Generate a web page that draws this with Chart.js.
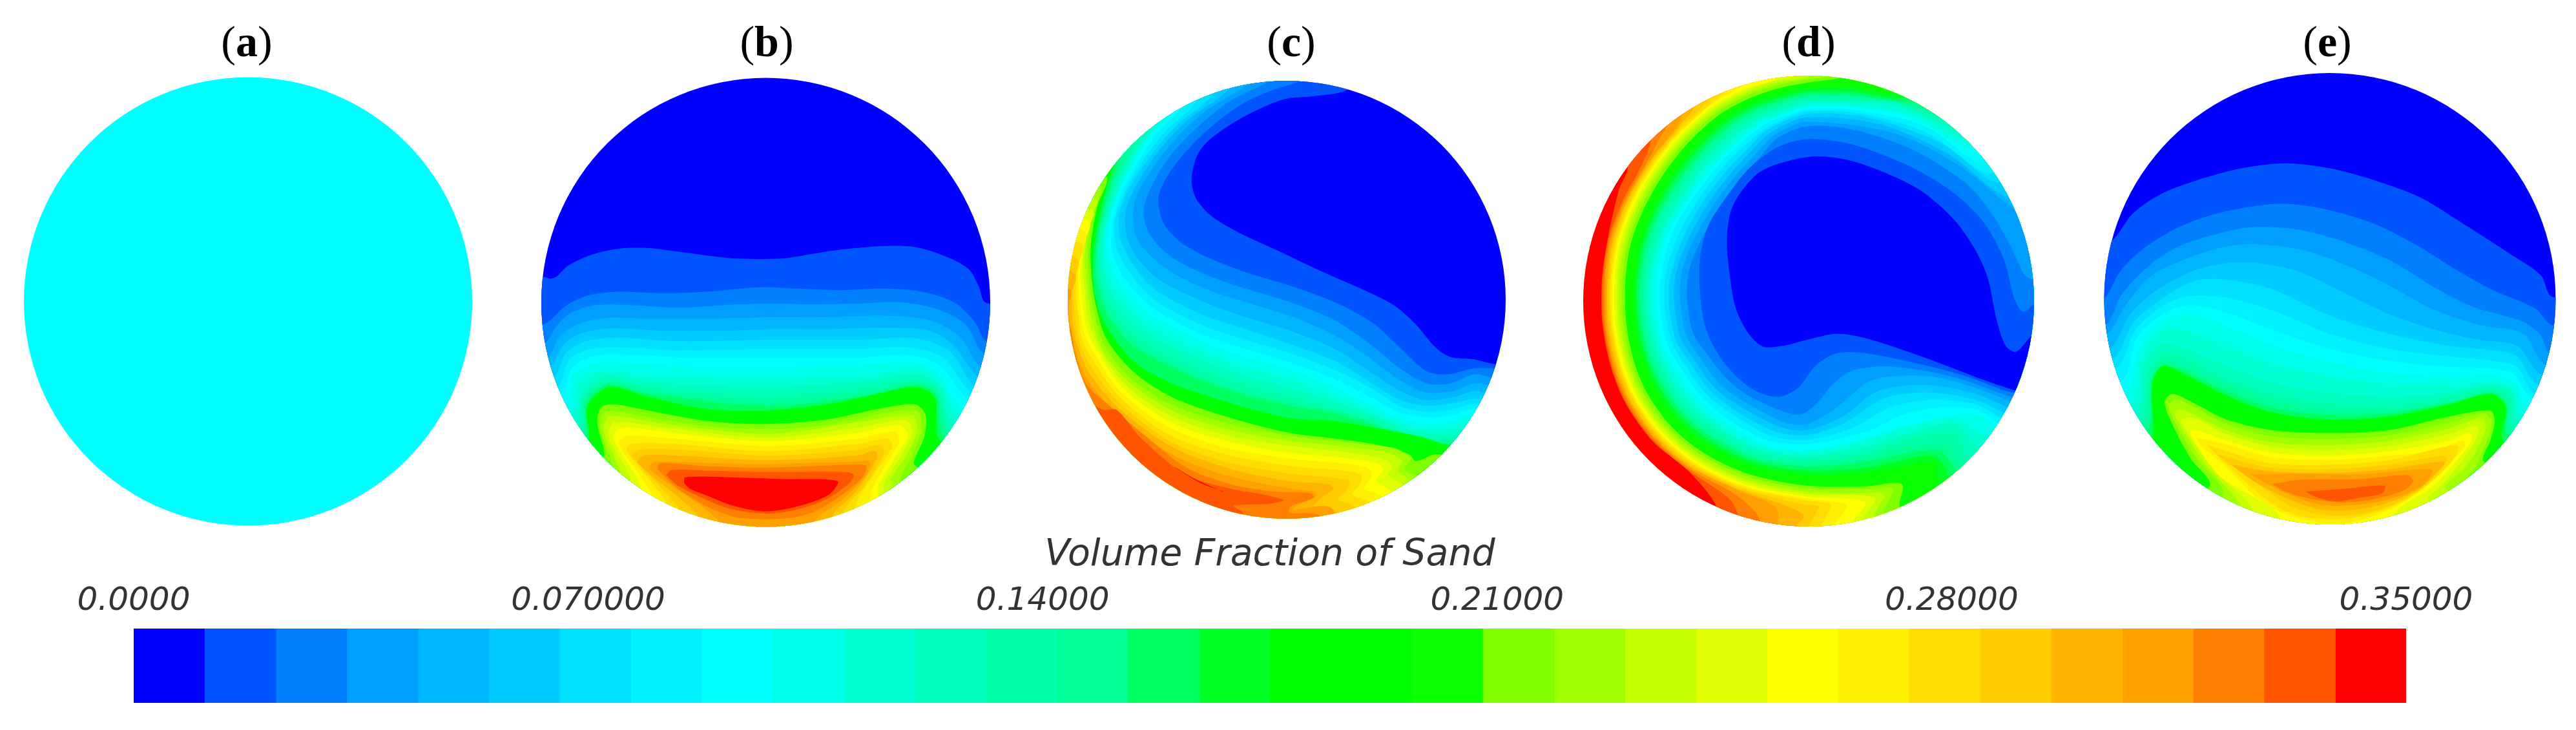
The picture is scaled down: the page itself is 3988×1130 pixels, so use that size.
<!DOCTYPE html>
<html><head><meta charset="utf-8">
<style>html,body{margin:0;padding:0;background:#fff;overflow:hidden}canvas{position:absolute;left:0;top:0}</style>
<script src="https://cdn.jsdelivr.net/npm/chart.js@4"></script>
</head><body>
<canvas id="discs" width="3988" height="1130"></canvas>
<canvas id="bar" width="3988" height="1130"></canvas>
<script>
const levelColors=['#0000ff','#0055ff','#0080ff','#009fff','#00b5ff','#00ccff','#00e0ff','#00f2ff','#00ffff','#00ffea','#00ffd5','#00ffbf','#00ffaa','#00ff95','#00ff60','#00ff22','#00ff00','#00ff00','#0aff00','#7fff00','#a0ff00','#c4ff00','#e0ff00','#ffff00','#ffef00','#ffdd00','#ffcc00','#ffb500','#ff9f00','#ff8000','#ff5500','#ff0000'];
const levelEdges=[0,0.0109,0.0219,0.0328,0.0438,0.0547,0.0656,0.0766,0.0875,0.0984,0.1094,0.1203,0.1313,0.1422,0.1531,0.1641,0.175,0.1859,0.1969,0.2078,0.2188,0.2297,0.2406,0.2516,0.2625,0.2734,0.2844,0.2953,0.3063,0.3172,0.3281,0.3391,0.35];
const tickValues=[0,0.07,0.14,0.21,0.28,0.35];
const tickLabels=['0.0000','0.070000','0.14000','0.21000','0.28000','0.35000'];
const barTitle='Volume Fraction of Sand';
const panelLetters=['a','b','c','d','e'];
const panelCentres=[382,1187,1999,2800,3603];
const discCx=[384,1185.5,1992,2800,3607];
const discCy=[466.6,468,464,466,462.5];
const discR=[347,347.5,339,349,349.5];
const discX0=[20,820,1630,2430,3240];

// Contours, panel units. [colour level, closure side, x,y,x,y...]
const discA=[[9,'R',[-100,-100,1700,-100,1700,1700,-100,1700]]];
const discB=[[1,'R',[-100,-100,1700,-100,1700,1700,-100,1700]],
[2,'S',[-60,700,46,705,70,712,90,705,130,668,210,632,300,612,400,610,500,622,600,635,700,645,850,645,950,630,1050,615,1200,603,1300,607,1400,637,1480,680,1515,740,1535,790,1620,810]],
[3,'S',[-20,880,50,862,75,845,125,800,200,767,300,755,450,760,600,755,780,740,900,745,1050,750,1200,745,1320,755,1430,790,1500,855,1535,915,1620,960]],
[4,'S',[-20,960,53,925,90,870,140,825,220,800,350,800,500,808,650,800,800,795,950,797,1100,795,1250,790,1380,815,1470,865,1528,960,1620,1000]],
[5,'S',[-20,1010,62,975,100,905,165,862,260,842,400,845,600,845,800,840,1000,840,1200,835,1350,850,1450,905,1520,1005,1620,1050]],
[6,'S',[-10,1040,70,1005,115,930,178,892,280,877,450,885,650,885,800,880,1000,880,1200,875,1350,885,1430,935,1512,1040,1620,1100]],
[7,'S',[0,1075,82,1040,125,955,195,918,300,908,500,920,800,915,1100,915,1300,910,1415,952,1500,1070,1620,1130]],
[8,'S',[10,1105,95,1075,135,980,208,945,320,940,500,950,800,945,1100,945,1280,940,1395,975,1492,1095,1620,1160]],
[9,'S',[10,1130,105,1095,145,1005,220,968,340,965,550,975,800,975,1100,975,1280,965,1380,1000,1480,1115,1620,1180]],
[10,'S',[20,1170,125,1135,150,1030,235,992,350,995,600,1008,800,1008,1100,1002,1280,990,1372,1025,1465,1155,1620,1210]],
[11,'S',[40,1190,140,1165,165,1060,245,1018,400,1032,800,1042,1150,1030,1290,1012,1378,1050,1450,1175,1620,1240]],
[12,'S',[50,1215,155,1190,175,1090,250,1035,400,1055,800,1072,1150,1050,1295,1030,1380,1065,1430,1195,1620,1260]],
[13,'S',[60,1230,170,1210,180,1110,255,1048,400,1072,800,1098,1150,1070,1295,1045,1378,1080,1420,1210,1620,1280]],
[14,'S',[70,1240,180,1225,185,1120,260,1058,400,1085,800,1118,1150,1085,1300,1055,1375,1090,1410,1225,1620,1290]],
[15,'S',[70,1255,188,1238,190,1130,262,1066,400,1095,800,1135,1150,1100,1300,1065,1370,1098,1400,1240,1620,1300]],
[17,'S',[80,1265,195,1250,195,1135,268,1072,400,1105,600,1145,800,1150,1000,1130,1200,1088,1300,1072,1365,1105,1385,1250,1600,1310]],
[20,'S',[150,1350,248,1310,228,1190,240,1140,285,1130,400,1150,600,1185,800,1195,1000,1180,1200,1140,1300,1130,1335,1165,1330,1240,1295,1325,1320,1345,1500,1400]],
[21,'S',[180,1400,275,1345,238,1205,255,1152,400,1172,600,1202,800,1212,1000,1198,1200,1157,1305,1150,1322,1205,1290,1300,1255,1385,1450,1500]],
[22,'S',[200,1450,305,1375,250,1222,270,1170,420,1190,800,1228,1100,1190,1290,1166,1307,1215,1270,1300,1220,1395,1400,1550]],
[23,'S',[220,1480,340,1395,265,1235,285,1190,440,1205,800,1240,1100,1208,1270,1182,1290,1225,1250,1305,1195,1415,1400,1570]],
[24,'S',[250,1490,375,1420,283,1245,305,1208,460,1222,800,1252,1100,1225,1250,1198,1275,1235,1230,1310,1175,1430,1350,1600]],
[25,'S',[380,1560,420,1450,300,1260,330,1235,500,1245,800,1268,1100,1245,1230,1220,1245,1255,1200,1330,1150,1450,1280,1600]],
[26,'S',[450,1600,470,1475,325,1280,350,1260,500,1262,800,1285,1100,1262,1205,1243,1222,1270,1170,1350,1100,1475,1200,1600]],
[27,'S',[500,1600,510,1490,345,1300,370,1280,500,1280,800,1300,1100,1282,1180,1265,1195,1290,1130,1400,1060,1490,1120,1600]],
[28,'S',[560,1600,570,1505,365,1325,385,1300,500,1300,800,1315,1100,1300,1165,1285,1170,1310,1100,1420,1020,1505,1060,1600]],
[29,'S',[630,1600,640,1520,405,1345,420,1322,600,1325,800,1328,1100,1320,1148,1320,1130,1370,1050,1450,960,1520,970,1600]],
[30,'C',[430,1345,440,1325,600,1335,800,1340,1090,1330,1135,1335,1120,1375,1040,1440,950,1490,850,1510,700,1505,600,1470,500,1410,430,1345]],
[31,'C',[460,1365,480,1348,600,1350,800,1355,1070,1355,1092,1365,1080,1390,1000,1445,900,1480,800,1493,680,1478,580,1440,500,1400,460,1365]],
[32,'C',[520,1390,525,1372,700,1373,850,1378,1038,1385,1015,1425,950,1455,850,1480,780,1485,680,1465,590,1430,540,1410,520,1390]]];
const discC=[[1,'R',[-100,-100,1700,-100,1700,1700,-100,1700]],
[2,'W',[1000,40,990,85,880,105,780,115,650,170,540,240,490,295,468,375,480,440,530,500,620,555,750,615,900,685,1050,750,1150,800,1220,860,1290,940,1340,972,1420,980,1485,995,1600,1010]],
[3,'W',[835,30,830,55,740,85,640,130,530,210,430,310,375,390,355,450,375,530,430,590,520,640,650,690,800,735,950,790,1080,860,1180,950,1260,1020,1330,1030,1420,1010,1480,1010,1600,1030]],
[4,'W',[770,40,690,75,590,125,480,215,390,310,330,410,305,490,330,570,400,640,520,700,650,745,800,790,950,850,1070,930,1170,1010,1260,1060,1340,1060,1420,1030,1475,1040,1600,1060]],
[5,'W',[690,45,620,90,520,150,420,240,340,340,285,430,270,510,290,590,370,670,500,740,650,790,800,835,950,900,1060,970,1170,1050,1260,1090,1350,1085,1420,1060,1465,1065,1600,1090]],
[6,'W',[630,50,560,110,460,180,370,270,300,370,250,470,245,550,270,620,350,710,500,785,650,840,800,885,950,945,1060,1015,1170,1085,1260,1115,1350,1105,1420,1085,1450,1090,1600,1110]],
[7,'W',[570,70,510,130,420,200,340,290,270,390,225,490,225,570,260,650,340,745,500,830,650,880,800,930,950,985,1060,1050,1170,1115,1260,1135,1350,1125,1430,1110,1600,1130]],
[8,'W',[500,90,470,140,385,215,310,310,250,410,210,510,210,590,250,680,340,780,500,865,650,915,800,960,950,1015,1080,1080,1180,1140,1270,1155,1350,1145,1420,1130,1600,1150]],
[9,'W',[470,100,430,150,350,230,285,330,230,430,200,530,200,620,240,710,340,810,500,895,650,945,800,990,950,1045,1080,1110,1180,1160,1270,1172,1350,1165,1415,1145,1600,1170]],
[10,'W',[440,115,390,170,320,250,260,350,210,450,185,550,188,640,225,730,330,830,500,920,650,975,800,1015,950,1075,1080,1135,1180,1180,1270,1195,1350,1185,1400,1170,1600,1200]],
[11,'W',[400,130,360,190,300,265,245,365,200,470,175,570,178,660,215,750,320,860,500,950,650,1005,800,1045,950,1100,1080,1150,1180,1195,1270,1210,1350,1205,1390,1190,1600,1220]],
[12,'W',[370,150,335,205,280,285,225,385,190,485,165,590,170,680,205,775,310,885,500,980,650,1035,800,1075,950,1120,1080,1165,1180,1208,1270,1225,1350,1225,1600,1240]],
[13,'W',[340,165,310,220,260,300,210,400,175,510,155,610,160,700,195,800,300,910,500,1010,650,1060,800,1100,950,1140,1080,1178,1180,1220,1270,1240,1350,1240,1600,1260]],
[14,'W',[320,185,285,240,240,315,195,420,165,530,150,630,155,720,190,820,290,930,500,1035,650,1085,800,1120,950,1150,1080,1190,1180,1230,1270,1255,1340,1250,1600,1280]],
[15,'W',[300,200,260,255,220,330,185,435,155,550,145,650,150,740,185,835,285,945,500,1050,650,1100,800,1135,950,1160,1080,1198,1180,1240,1270,1265,1330,1260,1600,1290]],
[17,'W',[270,230,240,275,205,340,172,440,145,560,135,660,140,760,175,860,270,985,400,1060,500,1095,650,1140,800,1175,950,1185,1100,1210,1250,1240,1330,1265,1600,1300]],
[20,'W',[100,350,182,375,150,470,128,600,130,700,145,800,180,910,270,1020,400,1105,600,1175,800,1225,950,1243,1100,1265,1200,1295,1225,1318,1300,1295,1600,1400]],
[21,'W',[90,390,165,410,135,490,118,620,122,720,135,810,172,930,260,1040,400,1130,600,1195,800,1235,1000,1258,1150,1275,1205,1310,1185,1345,1225,1370,1350,1500]],
[22,'W',[80,430,150,450,122,520,108,640,115,740,128,830,165,945,250,1050,400,1150,600,1215,800,1250,1000,1272,1130,1290,1175,1315,1165,1350,1200,1380,1330,1520]],
[23,'W',[70,470,138,490,112,560,100,660,108,760,120,850,160,950,245,1065,400,1170,600,1235,800,1268,1000,1290,1110,1310,1145,1335,1130,1365,1175,1395,1320,1550]],
[24,'W',[60,500,125,525,102,600,92,690,100,780,112,870,155,960,240,1080,400,1190,600,1255,800,1290,1000,1310,1090,1325,1115,1345,1090,1385,1130,1410,1300,1570]],
[25,'W',[50,530,112,560,92,640,85,720,92,800,105,890,148,975,235,1095,400,1210,600,1278,800,1310,1000,1328,1065,1345,1075,1370,1050,1410,1100,1430,1300,1590]],
[26,'W',[30,570,100,600,82,680,78,750,84,820,98,910,140,990,230,1110,400,1235,600,1300,800,1335,980,1350,1040,1365,1035,1395,1010,1430,1060,1450,1250,1600]],
[27,'W',[20,620,85,650,72,720,70,790,77,850,92,930,132,1010,225,1125,400,1255,600,1325,800,1360,960,1375,1000,1385,990,1415,960,1445,1010,1465,1200,1620]],
[28,'W',[10,660,75,700,64,760,63,820,70,880,88,950,125,1030,220,1140,400,1270,600,1345,800,1385,930,1395,945,1410,900,1445,880,1470,960,1490,1100,1650]],
[29,'W',[10,720,60,750,54,800,58,860,80,960,118,1050,215,1160,400,1295,600,1370,800,1410,880,1420,885,1437,825,1465,810,1480,940,1475,1000,1650]],
[30,'W',[-20,830,55,870,72,950,112,1060,180,1125,300,1225,450,1340,600,1395,750,1420,870,1425,880,1440,800,1470,800,1490,900,1500,1000,1650]],
[31,'W',[20,1100,125,1125,170,1148,215,1148,300,1245,450,1365,600,1410,700,1428,778,1448,730,1460,610,1467,640,1490,700,1650]],
[32,'C',[410,1337,480,1378,565,1417,575,1420,500,1392,420,1345,410,1337]]];
const discD=[[32,'R',[-100,-100,1700,-100,1700,1700,-100,1700]],
[31,'E',[120,250,195,335,165,420,129,576,109,711,110,858,139,1005,190,1129,280,1253,404,1355,495,1470,520,1620]],
[30,'E',[200,170,273,240,240,340,183,444,132,577,113,712,114,858,143,1004,193,1127,283,1250,406,1352,540,1445,570,1505,580,1620]],
[29,'E',[270,130,330,190,300,250,267,314,189,446,138,579,119,712,120,857,148,1002,199,1124,287,1246,409,1347,560,1430,640,1510,640,1620]],
[28,'E',[350,100,380,160,359,209,272,318,194,449,144,581,125,713,126,856,154,1000,204,1121,292,1242,413,1342,578,1420,700,1480,700,1620]],
[27,'E',[400,60,425,130,363,213,275,320,197,451,148,582,129,713,130,856,158,999,207,1119,295,1240,415,1339,580,1416,740,1470,790,1500,760,1540,740,1620]],
[26,'E',[470,40,480,100,368,218,280,325,204,454,154,584,135,714,137,855,165,996,214,1116,300,1235,419,1333,582,1410,780,1460,840,1470,825,1500,790,1600]],
[25,'E',[520,30,530,80,479,127,371,222,284,328,208,457,159,586,140,715,142,855,169,995,218,1113,304,1232,422,1329,584,1405,800,1450,880,1460,870,1490,830,1600]],
[24,'E',[590,10,600,55,481,131,374,226,288,332,212,459,164,587,145,715,147,854,174,993,222,1111,308,1228,425,1325,585,1400,800,1443,930,1460,930,1480,890,1535,890,1620]],
[23,'E',[700,-10,700,45,590,81,484,138,378,232,293,336,218,463,171,589,152,716,154,854,181,991,229,1107,313,1224,429,1319,588,1394,800,1436,960,1445,1000,1460,950,1528,960,1620]],
[22,'E',[760,-10,750,42,696,52,592,88,488,145,383,238,299,342,225,467,178,592,160,717,162,853,188,989,235,1104,319,1218,434,1313,590,1386,800,1428,980,1432,1030,1445,985,1520,1000,1620]],
[21,'E',[810,-10,805,40,697,60,594,96,491,152,388,244,305,347,232,470,186,594,168,718,170,852,196,986,242,1100,325,1213,438,1306,593,1379,800,1420,1000,1425,1060,1430,1025,1505,1040,1620]],
[20,'E',[880,0,870,37,790,50,695,70,595,105,495,160,392,252,312,353,241,475,195,597,178,719,180,851,205,983,251,1095,332,1207,444,1298,597,1369,800,1410,1000,1412,1090,1410,1060,1490,1080,1620]],
[19,'E',[925,20,920,42,800,60,700,80,600,115,500,170,400,260,320,360,250,480,205,600,188,720,190,850,215,980,260,1090,340,1200,450,1290,600,1360,800,1400,1000,1402,1120,1395,1112,1465,1130,1620]],
[16,'E',[1120,40,1100,95,950,75,800,80,700,100,600,135,510,190,420,275,345,370,275,490,235,605,218,722,220,845,245,970,290,1075,365,1180,470,1265,610,1330,800,1365,1000,1355,1130,1335,1230,1320,1240,1380,1280,1500]],
[15,'E',[1160,60,1130,110,950,90,800,90,710,110,610,145,520,200,430,285,355,380,285,498,245,610,228,724,230,843,255,965,300,1068,375,1172,480,1255,615,1320,800,1350,1000,1340,1200,1300,1245,1310,1270,1350,1300,1420]],
[14,'E',[1220,80,1170,125,950,100,800,100,715,120,615,155,530,210,440,295,365,390,295,505,255,615,238,725,240,840,265,960,310,1060,385,1165,490,1245,620,1310,800,1335,1000,1320,1150,1290,1250,1285,1290,1330,1340,1420]],
[13,'E',[1270,120,1210,145,950,110,800,110,720,130,620,165,540,220,450,305,375,400,305,510,265,620,248,727,250,838,275,955,320,1055,395,1155,500,1235,625,1300,800,1325,1000,1300,1150,1268,1280,1265,1310,1315,1380,1400]],
[12,'E',[1300,140,1250,178,1100,125,950,118,800,118,725,138,628,173,548,228,458,312,385,408,315,518,275,625,258,728,260,835,285,950,330,1045,405,1145,510,1225,630,1290,800,1310,1000,1285,1150,1240,1300,1225,1335,1290,1420,1370]],
[11,'E',[1340,180,1290,210,1100,135,950,125,800,125,730,148,635,183,555,238,468,320,395,415,325,525,285,630,268,730,270,832,295,945,340,1040,415,1135,515,1215,640,1280,800,1300,1000,1270,1150,1225,1300,1195,1365,1260,1450,1320]],
[10,'E',[1380,210,1320,245,1150,165,950,135,800,133,735,155,640,190,565,248,475,328,405,425,335,530,295,635,278,730,280,830,305,940,350,1030,425,1125,525,1205,650,1270,800,1290,1000,1250,1150,1205,1300,1180,1395,1230,1480,1290]],
[9,'E',[1400,240,1350,280,1150,175,950,140,800,140,740,160,650,195,570,255,485,335,410,432,345,535,305,640,290,732,292,828,315,935,360,1020,435,1115,530,1195,660,1265,800,1280,1000,1240,1150,1195,1300,1165,1400,1170,1430,1205,1520,1260]],
[8,'E',[1430,290,1370,320,1200,205,950,150,800,148,745,165,655,200,578,260,495,342,420,438,355,540,320,645,305,732,307,825,330,930,375,1010,445,1105,545,1185,670,1250,800,1262,1000,1220,1120,1165,1250,1140,1380,1150,1470,1210,1560,1240]],
[7,'E',[1470,350,1400,360,1200,225,950,158,800,155,750,170,665,210,590,270,510,350,435,445,375,550,335,650,320,735,322,820,345,925,390,1000,460,1095,560,1170,680,1235,800,1248,950,1210,1080,1140,1220,1115,1370,1130,1480,1190,1560,1220]],
[6,'E',[1490,390,1420,385,1250,260,1000,175,800,165,670,215,600,280,525,358,450,455,390,560,352,655,335,735,337,815,360,920,405,990,475,1085,575,1160,695,1220,800,1232,930,1190,1060,1110,1200,1090,1370,1115,1490,1170,1570,1200]],
[5,'E',[1510,440,1450,430,1280,300,1050,200,800,175,680,225,610,290,540,365,465,465,405,570,368,660,352,738,354,810,375,910,420,980,490,1075,590,1145,710,1205,800,1215,920,1170,1040,1085,1200,1065,1370,1095,1500,1150,1580,1180]],
[4,'E',[1530,500,1470,460,1320,340,1100,230,800,190,690,235,625,300,555,375,480,475,420,580,385,665,372,740,374,800,395,905,440,975,510,1065,605,1130,725,1190,800,1195,900,1140,1020,1050,1200,1035,1370,1075,1510,1130,1590,1160]],
[3,'E',[1600,720,1540,705,1490,610,1420,490,1330,390,1150,280,950,215,800,205,700,245,640,310,570,385,500,480,440,590,405,675,395,745,397,795,415,890,465,965,540,1055,630,1115,770,1165,830,1130,890,1060,960,1015,1100,1005,1300,1040,1490,1105,1600,1130]],
[2,'E',[1650,770,1567,795,1530,822,1500,780,1465,650,1400,530,1300,430,1150,340,950,265,800,248,700,275,600,350,530,440,470,530,440,640,440,760,460,880,520,990,610,1075,700,1105,770,1075,830,1000,900,960,1000,960,1200,1000,1350,1040,1480,1088,1600,1110]],
[1,'C',[1505,1085,1400,1050,1200,975,1000,910,900,895,800,915,720,935,650,937,600,890,560,810,540,700,530,580,550,470,630,365,720,325,830,305,950,320,1100,375,1200,430,1300,520,1370,620,1410,710,1440,850,1470,935,1505,955,1560,900,1650,850,1650,1100,1505,1085]]];
const discE=[[1,'R',[-100,-100,1700,-100,1700,1700,-100,1700]],
[2,'S',[0,620,68,582,135,495,230,430,350,385,500,345,650,328,800,345,950,385,1100,440,1250,530,1400,625,1510,700,1545,770,1650,790]],
[3,'S',[-30,800,40,775,90,690,160,620,270,550,400,500,550,470,650,463,780,480,950,530,1100,605,1230,685,1350,750,1490,810,1545,865,1650,880]],
[4,'S',[-10,880,50,860,100,760,200,660,300,600,450,555,550,540,700,550,850,590,1000,650,1150,740,1280,805,1450,855,1510,900,1540,960,1650,980]],
[5,'S',[0,920,60,885,110,800,200,700,330,640,450,605,550,597,700,615,850,665,1000,735,1150,815,1300,865,1450,895,1525,1000,1650,1030]],
[6,'S',[0,970,68,935,125,830,215,750,340,685,450,660,560,660,700,690,850,760,1000,830,1150,880,1300,915,1430,935,1510,1030,1650,1060]],
[7,'S',[10,1000,80,970,135,860,230,780,340,720,450,715,600,745,800,835,1000,895,1200,935,1350,950,1430,970,1495,1060,1650,1090]],
[8,'S',[15,1030,90,1000,145,880,240,800,320,770,450,775,600,815,800,895,1000,945,1200,970,1350,985,1430,1005,1485,1090,1650,1120]],
[9,'S',[20,1070,105,1045,150,905,245,825,330,800,450,825,600,880,800,945,1000,985,1200,1005,1350,1010,1420,1030,1475,1105,1650,1140]],
[10,'S',[30,1100,120,1080,160,935,240,850,330,830,450,870,600,930,800,990,1000,1025,1200,1040,1350,1035,1425,1060,1460,1130,1650,1170]],
[11,'S',[40,1150,135,1125,165,960,235,880,300,880,450,930,600,990,800,1035,1000,1060,1200,1065,1350,1055,1425,1080,1445,1160,1650,1200]],
[12,'S',[50,1180,150,1160,175,990,235,930,300,940,450,1000,600,1055,800,1090,1000,1105,1200,1090,1340,1065,1415,1090,1430,1180,1650,1240]],
[13,'S',[60,1190,165,1180,185,1020,235,960,300,970,450,1040,600,1090,800,1125,1000,1130,1200,1105,1340,1075,1410,1105,1420,1200,1650,1260]],
[14,'S',[70,1205,175,1195,195,1040,235,985,300,1000,450,1060,600,1115,800,1148,1000,1150,1200,1120,1340,1085,1400,1120,1410,1215,1650,1275]],
[15,'S',[80,1220,185,1215,200,1050,235,1000,300,1015,450,1085,600,1140,800,1165,1000,1160,1200,1125,1345,1092,1395,1130,1400,1230,1650,1290]],
[17,'S',[85,1235,195,1245,200,1060,235,1002,300,1025,450,1100,600,1155,800,1180,1000,1170,1200,1130,1345,1095,1392,1140,1385,1250,1640,1300]],
[20,'S',[250,1500,395,1400,330,1310,270,1200,242,1120,270,1095,340,1125,450,1180,600,1215,800,1225,1000,1215,1200,1170,1340,1150,1355,1185,1340,1250,1318,1320,1500,1420]],
[21,'S',[300,1540,440,1430,350,1310,280,1195,255,1130,290,1115,350,1145,450,1195,600,1235,800,1245,1000,1232,1200,1190,1320,1160,1345,1190,1320,1270,1290,1340,1265,1375,1450,1490]],
[22,'S',[350,1570,490,1470,380,1330,300,1210,275,1150,310,1150,450,1215,600,1255,800,1265,1000,1250,1200,1210,1310,1175,1325,1205,1295,1280,1250,1345,1190,1410,1400,1540]],
[23,'S',[400,1590,540,1490,410,1350,320,1225,300,1180,340,1175,450,1228,600,1270,800,1282,1000,1268,1200,1228,1290,1200,1300,1225,1265,1290,1180,1395,1130,1450,1300,1570]],
[24,'S',[470,1610,630,1505,430,1370,340,1250,330,1212,450,1250,600,1290,800,1300,1000,1285,1200,1250,1270,1225,1280,1245,1240,1300,1150,1400,1020,1490,1000,1600]],
[25,'C',[345,1240,370,1270,450,1340,540,1430,640,1490,780,1525,880,1520,1000,1480,1100,1420,1180,1340,1255,1270,1245,1250,1150,1285,1000,1300,800,1315,600,1305,450,1262,345,1240]],
[26,'C',[385,1265,600,1325,800,1330,1000,1315,1225,1265,1225,1300,1150,1380,1050,1450,950,1490,850,1510,720,1505,620,1470,500,1375,385,1265]],
[27,'C',[415,1295,600,1340,800,1345,1000,1330,1190,1300,1190,1325,1120,1400,1020,1460,900,1495,780,1497,660,1465,540,1380,415,1295]],
[28,'C',[465,1330,600,1352,800,1358,1000,1345,1185,1320,1170,1345,1100,1410,1000,1455,880,1480,760,1478,650,1440,550,1390,465,1330]],
[29,'C',[530,1362,700,1360,900,1362,1100,1345,1145,1350,1110,1400,1000,1445,880,1465,760,1462,640,1420,530,1362]],
[30,'C',[605,1395,700,1380,900,1378,1060,1365,1080,1385,1050,1415,950,1445,850,1455,740,1445,650,1420,605,1395]],
[31,'C',[715,1420,850,1410,985,1400,975,1425,900,1440,820,1452,760,1440,715,1420]]];
const allDiscs=[discA,discB,discC,discD,discE];

const PX=1568/720, PY=1568/730;
function toPage(d,x,y){return {x:discX0[d]+x/PX,y:100+y/PY};}
function closure(kind,f,l){
  if(kind==='S')return [[l[0],1750],[f[0],1750]];
  if(kind==='W')return [[1700,1750],[-150,1750],[-150,-150],[f[0],-150]];
  if(kind==='E')return [[1750,1750],[1750,-150],[f[0],-150]];
  return [];
}
const datasets=[];
allDiscs.forEach((contours,d)=>{
  contours.forEach(([lvl,kind,flat])=>{
    const pts=[];
    for(let i=0;i<flat.length;i+=2)pts.push([flat[i],flat[i+1]]);
    const line=pts.map(p=>toPage(d,p[0],p[1]));
    closure(kind,pts[0],pts[pts.length-1]).forEach(p=>line.push(toPage(d,p[0],p[1])));
    datasets.push({data:line,disc:d,showLine:true,fill:false,backgroundColor:levelColors[lvl-1],borderWidth:0,borderColor:'transparent',pointRadius:0,tension:kind==='R'?0.001:0.3,label:'disc'+d+'-'+lvl});
  });
});
datasets.reverse(); // Chart.js paints the last dataset first

const discFill={id:'discFill',
  beforeDatasetDraw(chart,args){
    const c=chart.ctx,line=args.meta.dataset,xs=chart.scales.x,ys=chart.scales.y;
    const i=chart.data.datasets[args.index].disc;
    const px=xs.getPixelForValue(discCx[i]),py=ys.getPixelForValue(discCy[i]);
    const r=Math.abs(xs.getPixelForValue(discCx[i]+discR[i])-px);
    line.updateControlPoints(chart.chartArea);
    c.save();
    c.beginPath();c.arc(px,py,r,0,Math.PI*2);c.clip();
    c.beginPath();line.path(c);c.closePath();
    c.fillStyle=line.options.backgroundColor;c.fill();
    c.restore();
  }
};
const panelText={id:'panelText',
  afterDraw(chart){
    const c=chart.ctx,xs=chart.scales.x,ys=chart.scales.y;
    c.save();c.fillStyle='#000';c.textBaseline='alphabetic';c.textAlign='left';
    const reg='68px "Liberation Serif"',bold='bold 68px "Liberation Serif"';
    panelLetters.forEach((t,i)=>{
      c.font=reg;const pw=c.measureText('(').width;
      c.font=bold;const lw=c.measureText(t).width;
      let x=xs.getPixelForValue(panelCentres[i])-(pw*2+lw)/2;const y=ys.getPixelForValue(87);
      c.font=reg;c.fillText('(',x,y);x+=pw;
      c.font=bold;c.fillText(t,x,y);x+=lw;
      c.font=reg;c.fillText(')',x,y);
    });
    c.restore();
  }
};
new Chart(document.getElementById('discs'),{
  type:'scatter',
  data:{datasets},
  options:{responsive:false,animation:false,devicePixelRatio:1,
    layout:{padding:0},
    plugins:{legend:{display:false},tooltip:{enabled:false}},
    scales:{x:{type:'linear',min:0,max:3988,display:false},y:{type:'linear',min:0,max:1130,reverse:true,display:false}}},
  plugins:[discFill,panelText]
});
new Chart(document.getElementById('bar'),{
  type:'bar',
  data:{labels:['Volume Fraction of Sand'],
    datasets:levelColors.map((col,i)=>({data:[levelEdges[i+1]-levelEdges[i]],backgroundColor:col,borderWidth:0,stack:'s',barPercentage:1,categoryPercentage:1}))},
  options:{indexAxis:'y',responsive:false,animation:false,devicePixelRatio:1,
    layout:{padding:{left:207,right:263,top:826,bottom:42}},
    plugins:{legend:{display:false},tooltip:{enabled:false}},
    scales:{
      y:{stacked:true,display:false},
      x:{type:'linear',stacked:true,position:'top',min:0,max:0.35,
        grid:{display:false,drawTicks:false},border:{display:false},
        afterBuildTicks(s){s.ticks=tickValues.map(v=>({value:v}));},
        afterFit(s){s.height=973-826;},
        ticks:{autoSkip:false,maxRotation:0,padding:12,color:'#333',font:{family:'DejaVu Sans',style:'italic',size:50},
          callback(v){const i=tickValues.indexOf(v);return tickLabels[i];}},
        title:{display:true,text:barTitle,color:'#333',font:{family:'DejaVu Sans',style:'italic',size:57},padding:{top:0,bottom:0}}
      }
    }}
});
</script>
</body></html>
